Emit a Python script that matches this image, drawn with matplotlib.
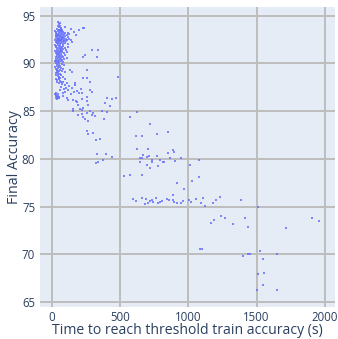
import matplotlib
matplotlib.use("Agg")
import matplotlib.pyplot as plt
import numpy as np

# ---- data ----
# fast runs: dense cluster near the origin
fast_pts = [
    (48,94.3),(52,94.1),(58,94.2),(45,93.9),(55,93.8),(62,93.9),(66,93.7),(42,93.6),(70,93.6),(50,93.5),(75,93.5),(60,93.5),
    (100,93.8),(140,93.6),(165,93.3),(200,93.5),(235,93.7),(120,93.2),(180,93.0),
    (25,93.4),(30,93.2),(35,93.3),(40,93.1),(45,93.4),(50,93.2),(55,93.0),(60,93.3),(65,93.1),(70,93.4),(75,93.2),(80,93.0),
    (85,93.3),(90,93.1),(95,92.9),(100,93.2),(110,93.0),(120,92.8),(130,93.1),
    (28,92.9),(33,92.7),(38,92.9),(43,92.6),(48,92.8),(53,92.6),(58,92.9),(63,92.7),(68,92.5),(73,92.8),(78,92.6),(83,92.8),
    (88,92.5),(93,92.7),(105,92.6),(115,92.4),(125,92.6),(140,92.5),
    (26,92.4),(31,92.2),(36,92.5),(41,92.3),(46,92.1),(51,92.4),(56,92.2),(61,92.5),(66,92.3),(71,92.1),(76,92.4),(81,92.2),
    (86,92.0),(91,92.3),(98,92.1),(108,92.3),(118,92.0),(150,92.2),
    (32,93.0),(44,92.95),(57,92.35),(67,92.85),(79,93.35),(62,92.05),(37,92.15),(52,93.45),(72,92.65),(47,92.55),
    (25,91.9),(30,91.7),(35,91.8),(40,91.6),(45,91.9),(50,91.5),(55,91.7),(60,91.8),(65,91.6),(70,91.4),(75,91.7),(80,91.5),
    (85,91.8),(95,91.6),(105,91.4),(120,91.7),
    (27,91.3),(32,91.1),(37,91.2),(42,91.0),(47,91.3),(52,91.1),(57,90.9),(62,91.2),(67,91.0),(72,91.3),(77,90.8),(88,91.1),
    (100,90.9),(115,91.2),
    (29,90.7),(34,90.5),(39,90.8),(44,90.6),(49,90.4),(54,90.7),(59,90.5),(64,90.8),(69,90.6),(74,90.4),(82,90.7),(92,90.5),(110,90.6),
    (38,91.45),(58,91.25),(46,90.95),(66,91.55),(33,90.25),(53,90.25),(78,91.15),
    (25,90.2),(30,90.0),(35,90.3),(40,89.9),(45,90.1),(50,89.8),(55,90.0),(60,89.7),(65,90.2),(72,89.9),(80,90.1),(90,89.8),
    (27,89.6),(32,89.4),(37,89.7),(42,89.3),(47,89.5),(52,89.2),(57,89.6),(62,89.3),(68,89.5),(76,89.2),(85,89.4),(100,89.1),
    (29,89.0),(34,88.8),(39,89.1),(44,88.7),(49,88.9),(54,88.6),(59,88.9),(64,88.5),(70,88.8),(80,88.6),(95,88.4),
    (31,88.4),(41,88.3),(51,88.5),(61,88.2),(36,89.35),(46,89.05),(56,88.35),
    (40,88.1),(55,87.9),(65,88.0),(75,87.8),(85,88.1),(95,87.7),(110,87.9),(130,87.6),(70,87.5),(90,87.3),(105,87.4),(120,87.2),
    (150,87.4),(170,87.7),(185,87.1),(200,86.9),(60,87.2),(80,86.9),(100,87.0),(140,86.8),(160,87.0),(215,87.3),
    (25,86.8),(30,86.6),(35,86.7),(40,86.5),(45,86.6),(50,86.4),(28,86.4),(38,86.3),(48,86.8),(55,86.5),(33,86.9),(43,86.4),
    (230,93.7),(295,91.4),(340,91.4),(330,90.7),(230,90.7),(245,90.9),(255,89.3),(485,88.6),(230,88.5),(258,88.5),(280,88.1),
    (134,89.3),(148,89.1),(295,87.0),(280,87.2),(220,86.9),(170,87.9),
]
fast_time = [p[0] for p in fast_pts]
fast_acc = [p[1] for p in fast_pts]

# medium runs
mid_pts = [
    (122,86.2),(158,86.2),(183,86.0),(256,86.1),(390,85.8),(427,85.5),(195,85.6),(268,85.6),(231,85.3),(158,85.0),(207,85.2),
    (280,85.0),(366,85.0),(403,84.9),(256,84.8),(305,84.8),(293,84.6),(220,84.7),(195,84.6),(231,84.4),(317,84.5),(244,84.2),
    (268,84.0),(385,84.2),(573,84.4),(622,84.9),(720,83.7),
    (85,86.6),(110,86.4),(220,86.3),(256,86.5),(405,86.4),(440,86.3),(470,86.4),(178,86.1),(154,85.2),(224,85.1),
    (268,82.6),(305,82.7),(617,82.4),(659,82.4),(768,82.6),(854,82.8),(322,82.0),(354,82.1),(258,82.9),(707,81.0),(627,81.0),
    (329,80.5),(397,80.5),(439,80.2),(322,79.6),(341,79.7),(378,79.9),(671,80.4),(646,80.1),(695,80.2),(732,79.9),(768,80.3),
    (793,79.9),(817,79.7),(854,80.6),(886,80.9),(895,80.7),(866,80.1),(903,79.8),(944,80.1),(646,79.7),(695,79.4),(720,79.0),
    (781,79.2),(714,80.3),(659,80.1),(736,79.7),(822,79.7),(1012,79.4),(1078,79.9),
    (532,78.2),(573,78.3),(663,78.3),(920,77.5),(968,76.8),(1025,77.7),(1078,78.1),
    (593,75.8),(659,75.9),(690,75.8),(720,75.6),(683,75.3),(707,75.4),(732,75.7),(763,75.9),(781,75.4),(793,75.5),(805,75.6),
    (842,75.8),(859,75.7),(886,76.2),(890,75.7),(897,75.5),(915,75.4),(944,75.4),(1007,75.7),(1017,75.5),(1056,75.8),
    (1091,75.4),(1110,75.9),(1122,75.1),(1183,75.4),(1203,75.7),(1232,76.0),(1383,75.7),(1512,75.0),(620,75.6),(745,75.5),(960,75.6),
]
mid_time = [p[0] for p in mid_pts]
mid_acc = [p[1] for p in mid_pts]

# slow runs
slow_time = [1166, 1188, 1239, 1269, 1325, 1415, 1435, 1715, 1908, 1957, 1086, 1102, 1398, 1435, 1452, 1525, 1649, 1545, 1508, 1552, 1549, 1500, 1649]
slow_acc = [73.3, 73.6, 74.0, 73.8, 73.2, 73.8, 72.9, 72.7, 73.8, 73.5, 70.6, 70.6, 69.8, 70.0, 70.0, 70.3, 70.0, 69.5, 67.9, 68.0, 66.8, 66.2, 66.3]

x_ticks = [0, 500, 1000, 1500, 2000]
y_ticks = [65, 70, 75, 80, 85, 90, 95]
x_label = "Time to reach threshold train accuracy (s)"
y_label = "Final Accuracy"

# ---- figure ----
plt.rcParams['font.family'] = ['Open Sans', 'DejaVu Sans']
fig = plt.figure(figsize=(3.38, 3.39), dpi=100)
ax = fig.add_axes([40/338, 1-307/339, 295/338, 300/339])
ax.set_facecolor('#E5ECF6')
for s in ax.spines.values():
    s.set_visible(False)

all_t = fast_time + mid_time + slow_time
all_a = fast_acc + mid_acc + slow_acc
ax.scatter(all_t, all_a, s=2.4, marker='s', c='#636EFA', linewidths=0, alpha=0.8, zorder=3)

ax.set_xlim(-85.6, 2074)
ax.set_ylim(64.47, 95.91)
ax.set_xticks(x_ticks)
ax.set_yticks(y_ticks)
ax.grid(True, color='#BDBDBD', linewidth=1.4, zorder=0)
ax.set_axisbelow(True)
ax.tick_params(axis='both', length=0, labelsize=8.3, colors='#2a3f5f')
ax.tick_params(axis='x', pad=3)
ax.tick_params(axis='y', pad=3.5)

fig.text(187.5/338, (339-334)/339, x_label, fontsize=10.1, color='#2a3f5f',
         ha='center', va='baseline')
fig.text(15/338, 1-157/339, y_label, fontsize=10.3, color='#2a3f5f',
         ha='center', va='center', rotation=90)

fig.savefig('out.png', dpi=100, facecolor='white')
